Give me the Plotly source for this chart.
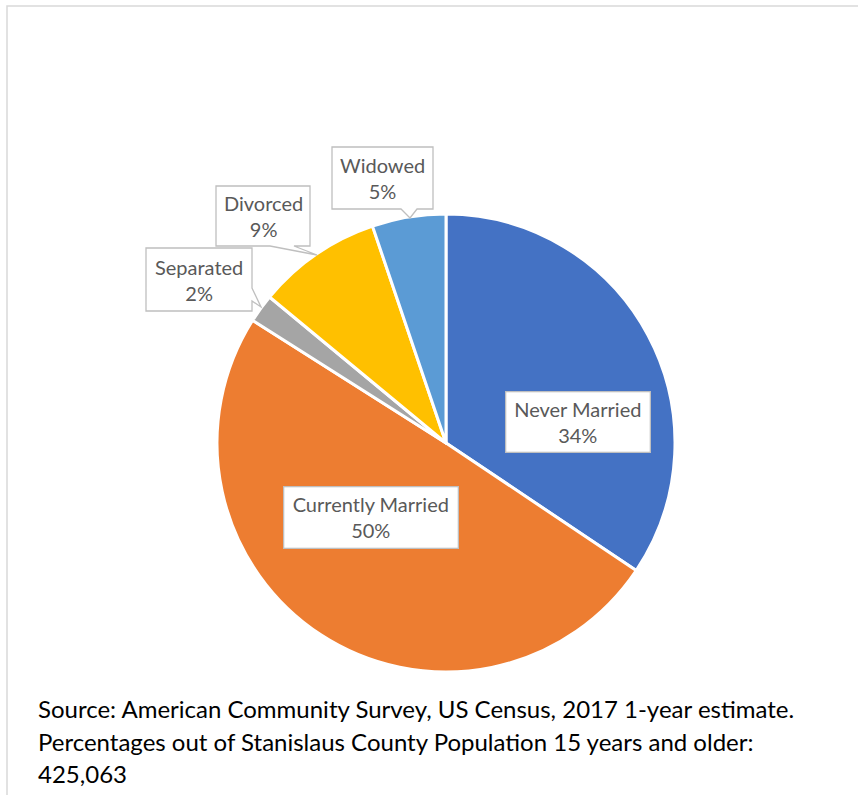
import plotly.graph_objects as go

# ---- data ----
categories = ["Never Married", "Currently Married", "Separated", "Divorced", "Widowed"]
values = [34.4, 49.6, 2.0, 8.8, 5.2]
colors = ["#4472C4", "#ED7D31", "#A5A5A5", "#FFC000", "#5B9BD5"]
source_lines = [
    "Source: American Community Survey, US Census, 2017 1-year estimate.",
    "Percentages out of Stanislaus County Population 15 years and older:",
    "425,063",
]

W, H = 858, 795
FONT = "Lato"
BOX_LINE = "#BFBFBF"

def px(x):
    return x / W

def py(y):
    return 1 - y / H

cx, cy, r = 446, 443, 229

fig = go.Figure(go.Pie(
    labels=categories,
    values=values,
    sort=False,
    direction="clockwise",
    rotation=0,
    marker=dict(colors=colors, line=dict(color="white", width=3)),
    textinfo="none",
    hoverinfo="label+percent",
    domain=dict(x=[px(cx - r), px(cx + r)], y=[py(cy + r), py(cy - r)]),
    showlegend=False,
))

total = sum(values)
label_text = {c: f"{c}<br>{round(v / total * 100)}%" for c, v in zip(categories, values)}

annotations = []
shapes = [dict(type="rect", xref="paper", yref="paper",
               x0=px(7), x1=1.02, y0=-0.02, y1=py(6),
               line=dict(color="#D9D9D9", width=1.5), layer="below")]

# inside labels: box centre and size (pixels)
inside_boxes = {
    "Never Married": (578, 422, 145, 61),
    "Currently Married": (371, 517, 175, 62),
}
for cat, (bx, by, bw, bh) in inside_boxes.items():
    annotations.append(dict(
        text=label_text[cat], xref="paper", yref="paper", x=px(bx), y=py(by),
        xanchor="center", yanchor="middle", showarrow=False,
        font=dict(family=FONT, size=20, color="#595959"),
        bgcolor="white", bordercolor=BOX_LINE, borderwidth=1.3, borderpad=0,
        width=bw - 2, height=bh - 2, align="center", valign="middle",
    ))

# callout boxes: outline polygon in pixels (box with pointer)
callouts = {
    "Widowed": [(332, 147), (433, 147), (433, 209), (417, 209), (410, 218),
                (401, 209), (332, 209)],
    "Divorced": [(216, 186), (310, 186), (310, 246), (294, 246), (317, 255),
                 (270, 246), (216, 246)],
    "Separated": [(146, 248), (252, 248), (252, 288), (261, 307), (252, 301),
                  (252, 311), (146, 311)],
}
for cat, pts in callouts.items():
    path = "M " + " L ".join(f"{px(x):.5f},{py(y):.5f}" for x, y in pts) + " Z"
    shapes.append(dict(type="path", xref="paper", yref="paper", path=path,
                       fillcolor="white", line=dict(color=BOX_LINE, width=1.3),
                       layer="above"))
    bx = (pts[0][0] + pts[1][0]) / 2
    by = (pts[0][1] + pts[-1][1]) / 2
    annotations.append(dict(
        text=label_text[cat], xref="paper", yref="paper", x=px(bx), y=py(by),
        xanchor="center", yanchor="middle", showarrow=False,
        font=dict(family=FONT, size=20, color="#595959"), align="center",
    ))

line_centres = [708, 741, 773]
for line, yc in zip(source_lines, line_centres):
    annotations.append(dict(
        text=line, xref="paper", yref="paper", x=px(36), y=py(yc),
        xanchor="left", yanchor="middle", showarrow=False,
        font=dict(family=FONT, size=24, color="#000000"),
    ))

fig.update_layout(
    width=W, height=H,
    margin=dict(l=0, r=0, t=0, b=0),
    paper_bgcolor="white", plot_bgcolor="white",
    annotations=annotations,
    shapes=shapes,
)

fig.write_html("out.html", config={"displayModeBar": False},
               post_script="document.body.style.margin='0';document.body.style.overflow='hidden';")
